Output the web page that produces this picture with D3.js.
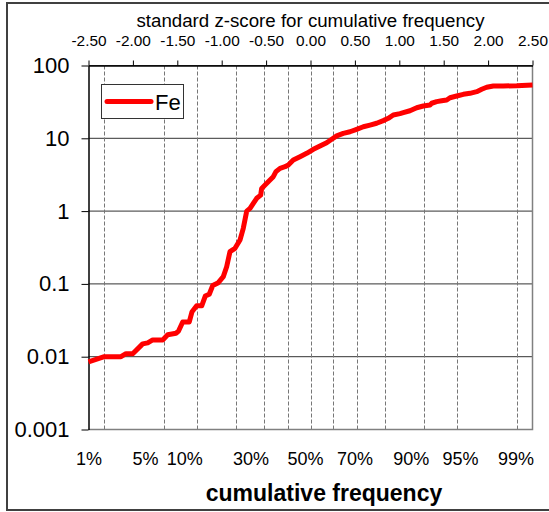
<!DOCTYPE html>
<html>
<head>
<meta charset="utf-8">
<script src="https://cdn.jsdelivr.net/npm/d3@7"></script>
<style>
  html, body { margin: 0; padding: 0; background: #fff; }
  svg { display: block; font-family: "Liberation Sans", Arial, sans-serif; }
</style>
</head>
<body>
<svg id="chart" width="549" height="512"></svg>
<script>
// Fe concentrations on a normal-probability scale (z-score of cumulative frequency)
const feZ = [
  -2.500, -2.322, -2.134, -2.078, -2.002, -1.890, -1.833, -1.777, -1.664, -1.608,
  -1.515, -1.486, -1.439, -1.365, -1.334, -1.282, -1.225, -1.185, -1.140, -1.101,
  -1.038, -0.982, -0.944, -0.907, -0.850, -0.794, -0.757, -0.718, -0.681, -0.644,
  -0.606, -0.561, -0.550, -0.512, -0.456, -0.419, -0.389, -0.343, -0.287, -0.250,
  -0.194, -0.118, -0.043, 0.032, 0.107, 0.182, 0.239, 0.295, 0.369, 0.445,
  0.520, 0.595, 0.670, 0.745, 0.820, 0.876, 0.932, 1.008, 1.045, 1.120,
  1.196, 1.270, 1.346, 1.365, 1.421, 1.477, 1.534, 1.571, 1.646, 1.721,
  1.796, 1.872, 1.928, 1.984, 2.059, 2.171, 2.322, 2.500
];
const feValues = [
  0.0085, 0.0100, 0.0100, 0.0110, 0.0110, 0.0150, 0.0155, 0.0170, 0.0170, 0.0200,
  0.0210, 0.0225, 0.0300, 0.0300, 0.0415, 0.0500, 0.0500, 0.0680, 0.0720, 0.0950,
  0.104, 0.126, 0.172, 0.277, 0.308, 0.40, 0.58, 1.00, 1.09, 1.28,
  1.50, 1.66, 2.05, 2.28, 2.67, 2.97, 3.48, 3.87, 4.07, 4.30,
  5.03, 5.59, 6.22, 7.06, 7.84, 8.70, 9.70, 10.8, 11.7, 12.3,
  13.3, 14.4, 15.2, 16.1, 17.5, 18.8, 20.9, 21.8, 22.5, 23.9,
  26.3, 27.8, 28.7, 30.3, 31.9, 32.8, 33.6, 36.1, 38.1, 40.2,
  41.5, 43.7, 47.1, 50.2, 52.3, 52.3, 52.8, 54.0
];
const seriesName = "Fe";

// axis ticks
const zTicks = [-2.5, -2.0, -1.5, -1.0, -0.5, 0.0, 0.5, 1.0, 1.5, 2.0, 2.5];
const yTicks = [0.001, 0.01, 0.1, 1, 10, 100];
const yTickLabels = ["0.001", "0.01", "0.1", "1", "10", "100"];
const gridPercents = [1, 5, 10, 20, 30, 40, 50, 60, 70, 80, 90, 95, 99];
const freqLabelPercents = [1, 5, 10, 30, 50, 70, 90, 95, 99];
// horizontal nudge (px) of each frequency label from its gridline
const freqLabelNudge = [-15, -19, -12, -13, -5, -2, -13, 4, -1];

// inverse standard normal CDF (Acklam's rational approximation)
function probit(p) {
  const a = [-3.969683028665376e+01, 2.209460984245205e+02, -2.759285104469687e+02,
             1.383577518672690e+02, -3.066479806614716e+01, 2.506628277459239e+00];
  const b = [-5.447609879822406e+01, 1.615858368580409e+02, -1.556989798598866e+02,
             6.680131188771972e+01, -1.328068155288572e+01];
  const c = [-7.784894002430293e-03, -3.223964580411365e-01, -2.400758277161838e+00,
             -2.549671010405194e+00, 4.374664141464968e+00, 2.938163982698783e+00];
  const d = [7.784695709041462e-03, 3.224671290700398e-01, 2.445134137142996e+00,
             3.754408661907416e+00];
  const plow = 0.02425;
  if (p < plow) {
    const q = Math.sqrt(-2 * Math.log(p));
    return (((((c[0]*q+c[1])*q+c[2])*q+c[3])*q+c[4])*q+c[5]) /
           ((((d[0]*q+d[1])*q+d[2])*q+d[3])*q+1);
  }
  if (p > 1 - plow) {
    const q = Math.sqrt(-2 * Math.log(1 - p));
    return -(((((c[0]*q+c[1])*q+c[2])*q+c[3])*q+c[4])*q+c[5]) /
            ((((d[0]*q+d[1])*q+d[2])*q+d[3])*q+1);
  }
  const q = p - 0.5, r = q * q;
  return (((((a[0]*r+a[1])*r+a[2])*r+a[3])*r+a[4])*r+a[5])*q /
         (((((b[0]*r+b[1])*r+b[2])*r+b[3])*r+b[4])*r+1);
}

const svg = d3.select("#chart");
const W = 549, H = 512;
const plot = { left: 88.5, right: 532.5, top: 65.5, bottom: 429.5 };

const x = d3.scaleLinear().domain([-2.5, 2.5]).range([plot.left, plot.right]);
const y = d3.scaleLog().domain([0.001, 100]).range([plot.bottom, plot.top]);

// outer frame
svg.append("rect")
  .attr("x", 7).attr("y", 3).attr("width", W + 10).attr("height", 507)
  .attr("fill", "none").attr("stroke", "#404040").attr("stroke-width", 2);

// horizontal decade gridlines
svg.append("g").selectAll("line").data(yTicks.slice(1)).join("line")
  .attr("x1", plot.left).attr("x2", plot.right)
  .attr("y1", d => y(d)).attr("y2", d => y(d))
  .attr("stroke", "#333").attr("stroke-width", 1);

// vertical dashed gridlines at cumulative-frequency percentiles
svg.append("g").selectAll("line").data(gridPercents).join("line")
  .attr("x1", d => Math.round(x(probit(d / 100))) + 0.5)
  .attr("x2", d => Math.round(x(probit(d / 100))) + 0.5)
  .attr("y1", plot.top).attr("y2", plot.bottom)
  .attr("stroke", "#777").attr("stroke-width", 1)
  .attr("stroke-dasharray", "4,2");

// plot frame (right and bottom edges)
svg.append("path")
  .attr("d", `M${plot.right},${plot.top}V${plot.bottom}H${plot.left}`)
  .attr("fill", "none").attr("stroke", "#808080").attr("stroke-width", 1.5);

// left (log) axis
const yAxis = d3.axisLeft(y).tickValues(yTicks)
  .tickFormat((d, i) => yTickLabels[i]).tickSize(7).tickSizeOuter(0).tickPadding(12);
const gy = svg.append("g").attr("transform", `translate(${plot.left},0)`).call(yAxis);
gy.select(".domain").attr("stroke", "#000").attr("stroke-width", 1.5);
gy.selectAll(".tick line").attr("stroke", "#000");
gy.selectAll(".tick text").attr("font-size", 22).attr("fill", "#000")
  .attr("font-family", "Liberation Sans, Arial, sans-serif");

// top z-score axis
const zAxis = d3.axisTop(x).tickValues(zTicks)
  .tickFormat(d => d.toFixed(2)).tickSize(5).tickSizeOuter(0).tickPadding(15);
const gz = svg.append("g").attr("transform", `translate(0,${plot.top})`).call(zAxis);
gz.select(".domain").attr("stroke", "#000").attr("stroke-width", 1.5);
gz.selectAll(".tick line").attr("stroke", "#000");
gz.selectAll(".tick text").attr("font-size", 15.4).attr("fill", "#000")
  .attr("font-family", "Liberation Sans, Arial, sans-serif");

svg.append("text")
  .attr("x", (plot.left + plot.right) / 2).attr("y", 27)
  .attr("text-anchor", "middle").attr("font-size", 18.7)
  .text("standard z-score for cumulative frequency");

// bottom cumulative-frequency labels
svg.append("g").selectAll("text").data(freqLabelPercents).join("text")
  .attr("x", (d, i) => x(probit(d / 100)) + freqLabelNudge[i])
  .attr("y", 465)
  .attr("text-anchor", "middle").attr("font-size", 18)
  .text(d => d + "%");

svg.append("text")
  .attr("x", 324).attr("y", 501)
  .attr("text-anchor", "middle").attr("font-size", 23).attr("font-weight", "bold")
  .text("cumulative frequency");

// Fe curve
const pts = feZ.map((z, i) => [z, feValues[i]]);
svg.append("path")
  .datum(pts)
  .attr("d", d3.line().x(d => x(d[0])).y(d => y(d[1])))
  .attr("fill", "none").attr("stroke", "#ff0000").attr("stroke-width", 5)
  .attr("stroke-linejoin", "round").attr("stroke-linecap", "butt");

// legend
const lg = svg.append("g");
lg.append("rect").attr("x", 101.5).attr("y", 84.5).attr("width", 82).attr("height", 34)
  .attr("fill", "#fff").attr("stroke", "#333").attr("stroke-width", 1);
lg.append("line").attr("x1", 107).attr("x2", 151).attr("y1", 101.5).attr("y2", 101.5)
  .attr("stroke", "#ff0000").attr("stroke-width", 5).attr("stroke-linecap", "round");
lg.append("text").attr("x", 155).attr("y", 110).attr("font-size", 22).text(seriesName);
</script>
</body>
</html>
